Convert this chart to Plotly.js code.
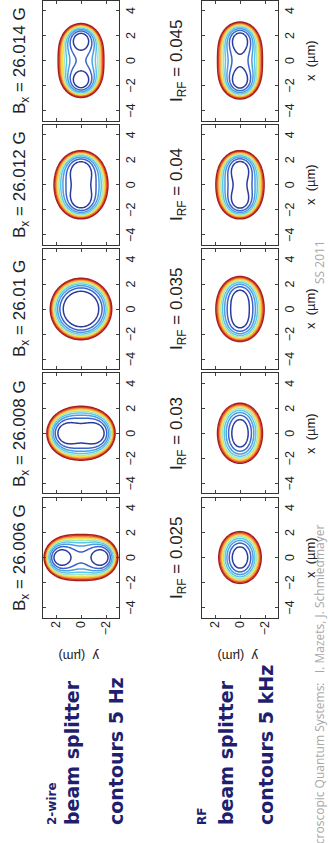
<!DOCTYPE html>
<html>
<head>
<meta charset="utf-8">
<script src="https://cdn.plot.ly/plotly-3.0.1.min.js"></script>
<style>
html,body{margin:0;padding:0;background:#fff;overflow:hidden;width:328px;height:843px;}
#wrap{position:absolute;left:0;top:0;width:843px;height:328px;transform-origin:0 0;transform:translate(0px,843px) rotate(-90deg);}
#plot{width:843px;height:328px;}
</style>
</head>
<body>
<div id="wrap"><div id="plot"></div></div>
<script>
// ---- data ----
const bxLabels = ['26.006', '26.008', '26.01', '26.012', '26.014'];   // B_x (G), 2-wire row
const irfLabels = ['0.025', '0.03', '0.035', '0.04', '0.045'];        // I_RF, RF row
// 2-wire splitter: V = c*|(x+iy)^2 + delta|^2  (Hz), contours every 5 Hz
const wireDelta = [2.66, 1.4, 0, -1.4, -2.7];     // um^2, splitting parameter per panel
const wireScale = 1.23;                           // Hz / um^4
// RF splitter: V = a*r^4 + alpha*x^2 + beta*y^2 (kHz), contours every 5 kHz
const rfQuartic = [1.0, 0.8, 0.985, 1.27, 0.94];
const rfAlphaX  = [6.2, 3.2, 0, -3.81, -4.8];
const rfBetaY   = [12.7, 11.3, 8.42, 6.6, 8.96];
const levelStart = 5, levelEnd = 45, levelStep = 5;
const xTicks = [-4, -2, 0, 2, 4];
const yTicks = [-2, 0, 2];
const xRange = [-4.8, 4.8];
const yRange = [-3.04, 3.04];

// ---- geometry (unrotated frame 843 x 328) ----
const W = 843, H = 328;
const panelCentersU = [285.5, 409.75, 534, 658.25, 782.5];
const panelHalfW = 60;
const rowTopV = [43, 202], rowBotV = [119, 278];

// grid for the library
const gx = [], gy = [];
for (let i = 0; i <= 120; i++) gx.push(xRange[0] + (xRange[1] - xRange[0]) * i / 120);
for (let j = 0; j <= 76; j++) gy.push(yRange[0] + (yRange[1] - yRange[0]) * j / 76);

function wireField(delta) {
  return gy.map(y => gx.map(x => {
    const re = x * x - y * y + delta, im = 2 * x * y;
    return wireScale * (re * re + im * im);
  }));
}
function rfField(a, al, be) {
  const z = gy.map(y => gx.map(x => { const r2 = x * x + y * y; return a * r2 * r2 + al * x * x + be * y * y; }));
  let m = Infinity; z.forEach(r => r.forEach(v => { if (v < m) m = v; }));
  return z.map(r => r.map(v => v - m));
}

const lineScale = [
  [0, '#2b3b9c'], [0.125, '#3a63cc'], [0.25, '#4f9ee0'], [0.375, '#5ac8ea'],
  [0.5, '#a8e4c4'], [0.625, '#ece24a'], [0.75, '#f5a436'], [0.875, '#e6462a'], [1, '#a8201c']
];

const traces = [];
const layout = {
  width: W, height: H, autosize: false,
  margin: {l: 0, r: 0, t: 0, b: 0},
  paper_bgcolor: '#fff', plot_bgcolor: '#fff',
  showlegend: false,
  font: {family: 'Liberation Sans, Arial, sans-serif', size: 12, color: '#222'},
  annotations: []
};

const tickFont = {family: 'Liberation Sans, Arial, sans-serif', size: 12.5, color: '#222'};
const titleFont = {family: 'Liberation Sans, Arial, sans-serif', size: 17, color: '#222'};

for (let r = 0; r < 2; r++) {
  for (let k = 0; k < 5; k++) {
    const n = r * 5 + k + 1;
    const xa = n === 1 ? 'x' : 'x' + n, ya = n === 1 ? 'y' : 'y' + n;
    const z = r === 0 ? wireField(wireDelta[k]) : rfField(rfQuartic[k], rfAlphaX[k], rfBetaY[k]);
    traces.push({
      type: 'contour', x: gx, y: gy, z: z, xaxis: xa, yaxis: ya,
      autocontour: false,
      contours: {start: levelStart, end: levelEnd, size: levelStep, coloring: 'lines'},
      line: {width: 1.5, smoothing: 1},
      colorscale: lineScale, zauto: false, zmin: levelStart, zmax: levelEnd,
      showscale: false, hoverinfo: 'skip'
    });
    const uc = panelCentersU[k];
    layout['xaxis' + (n === 1 ? '' : n)] = {
      domain: [(uc - panelHalfW) / W, (uc + panelHalfW) / W],
      anchor: ya, range: xRange, tickvals: xTicks,
      ticks: 'inside', ticklen: 3, tickcolor: '#444', tickwidth: 1,
      showline: true, linecolor: '#333', linewidth: 1, mirror: 'ticks',
      showgrid: false, zeroline: false, tickfont: tickFont, fixedrange: true
    };
    layout['yaxis' + (n === 1 ? '' : n)] = {
      domain: [1 - rowBotV[r] / H, 1 - rowTopV[r] / H],
      anchor: xa, range: yRange, tickvals: yTicks,
      ticks: 'inside', ticklen: 3, tickcolor: '#444', tickwidth: 1,
      showline: true, linecolor: '#333', linewidth: 1, mirror: 'ticks',
      showgrid: false, zeroline: false, tickfont: tickFont,
      showticklabels: k === 0, fixedrange: true
    };
    // panel title
    const ttl = r === 0 ? 'B<sub>x</sub> = ' + bxLabels[k] + ' G' : 'I<sub>RF</sub> = ' + irfLabels[k];
    layout.annotations.push({
      text: ttl, xref: 'paper', yref: 'paper', x: uc / W, y: 1 - (r === 0 ? 21 : 178) / H,
      xanchor: 'center', yanchor: 'middle', showarrow: false, font: titleFont
    });
    if (r === 1) {
      layout.annotations.push({
        text: 'x  (\u00b5m)', xref: 'paper', yref: 'paper', x: uc / W, y: 1 - 310 / H,
        xanchor: 'center', yanchor: 'middle', showarrow: false, font: {family: tickFont.family, size: 13, color: '#222'}
      });
    }
  }
  layout.annotations.push({
    text: 'y  (\u00b5m)', xref: 'paper', yref: 'paper', x: 186 / W, y: 1 - (r === 0 ? 79 : 238) / H,
    xanchor: 'center', yanchor: 'middle', textangle: -90, showarrow: false,
    font: {family: tickFont.family, size: 13, color: '#222'}
  });
}

// left side labels
const navy = '#1f1f6e';
const leftFont = (s) => ({family: 'DejaVu Sans, sans-serif', size: s, color: navy, weight: 'bold'});
[
  ['2-wire', 52, 12], ['beam splitter', 72, 19], ['contours 5 Hz', 116, 19],
  ['RF', 202, 12], ['beam splitter', 226, 19], ['contours 5 kHz', 266, 19]
].forEach(([t, v, s]) => {
  layout.annotations.push({
    text: t, xref: 'paper', yref: 'paper', x: 16 / W, y: 1 - v / H,
    xanchor: 'left', yanchor: 'middle', showarrow: false, font: leftFont(s)
  });
});

// footer
const footFont = {family: 'Open Sans, sans-serif', size: 12, color: '#a8a8a8'};
layout.annotations.push({
  text: 'Microscopic Quantum Systems:\u00a0\u00a0 I. Mazets, J. Schmiedmayer', xref: 'paper', yref: 'paper',
  x: -17 / W, y: 1 - 319 / H, xanchor: 'left', yanchor: 'middle', showarrow: false, font: footFont
});
layout.annotations.push({
  text: 'SS 2011', xref: 'paper', yref: 'paper', x: 581 / W, y: 1 - 319 / H,
  xanchor: 'center', yanchor: 'middle', showarrow: false, font: footFont
});

Plotly.newPlot('plot', traces, layout, {staticPlot: true, displayModeBar: false, responsive: false});
</script>
</body>
</html>
